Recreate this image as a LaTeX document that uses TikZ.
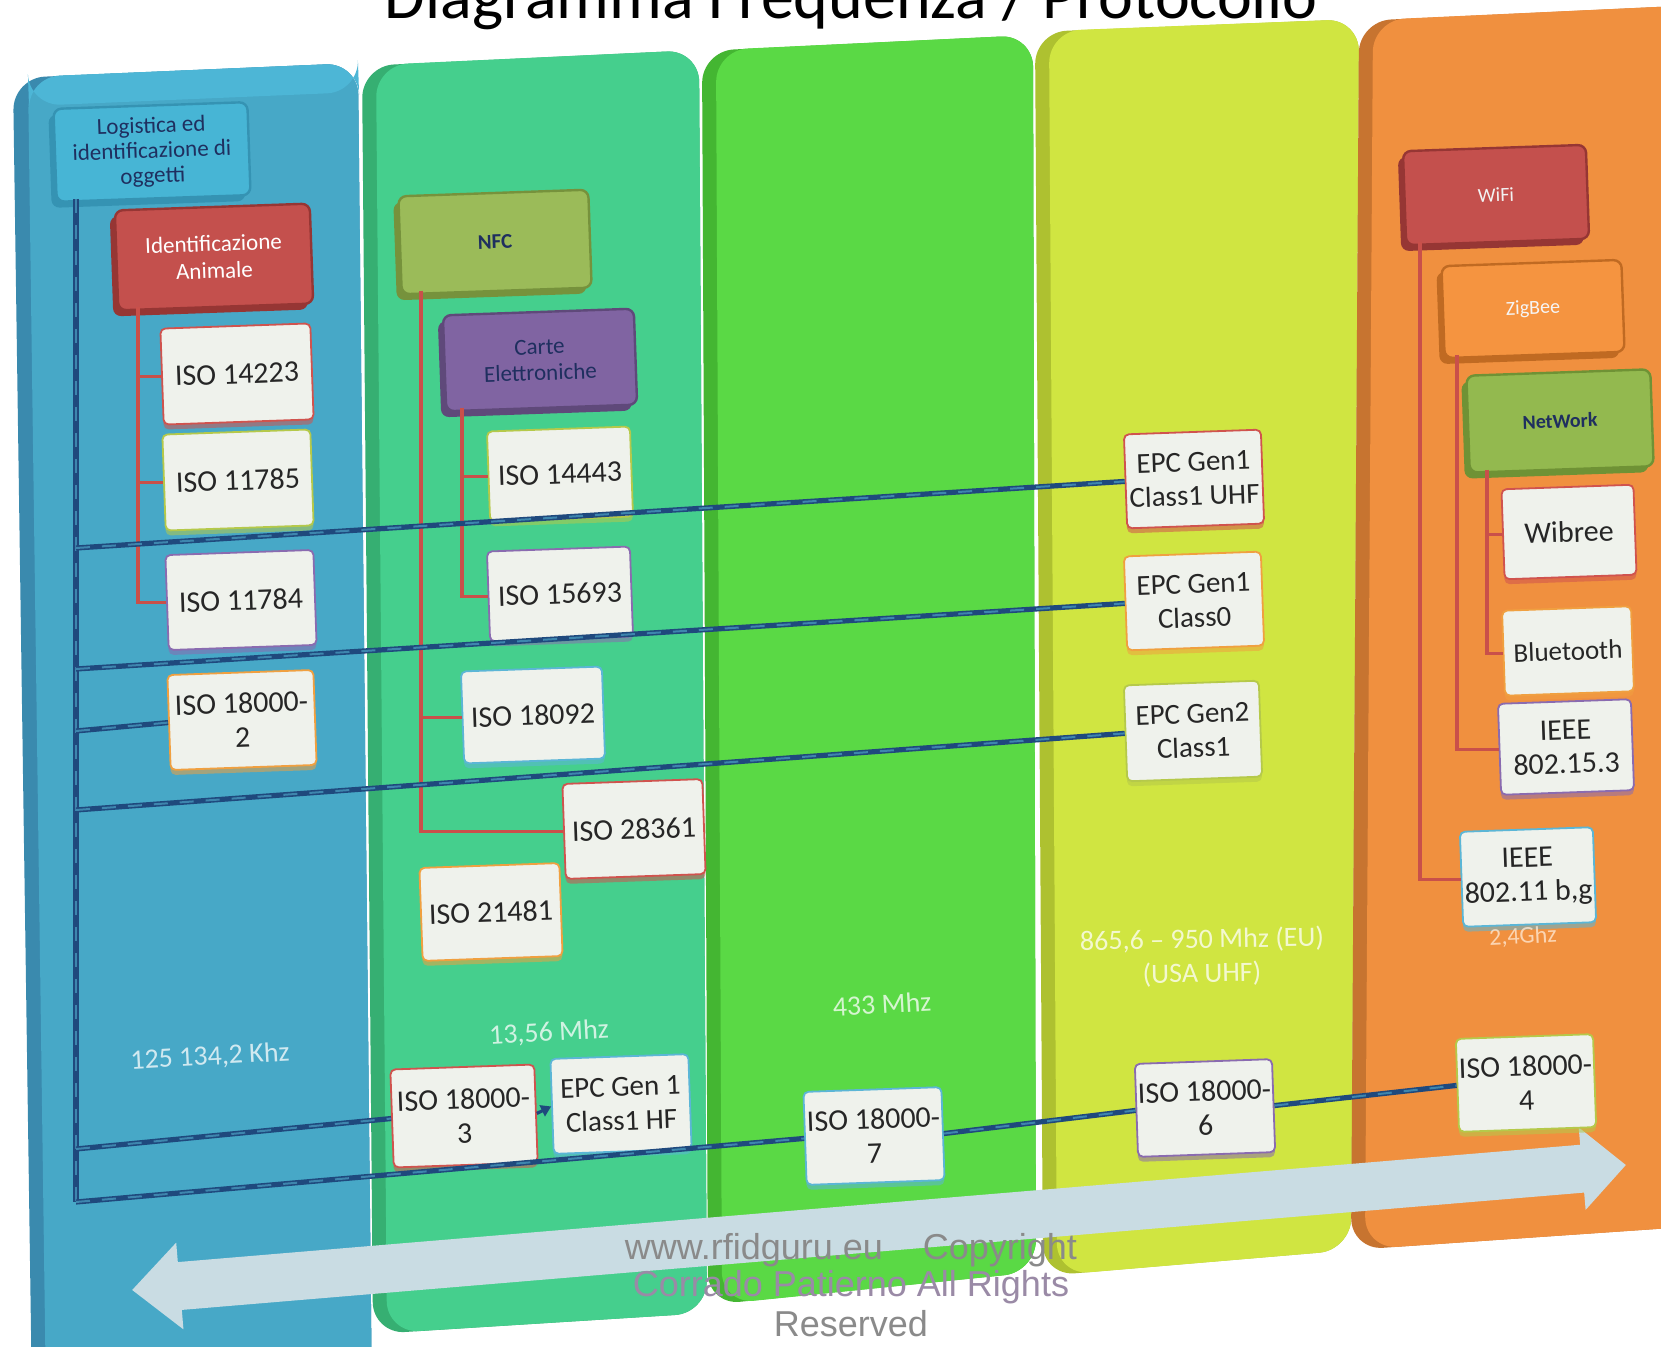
\documentclass[tikz,border=0pt]{standalone}
\usepackage{fontspec}
\setmainfont{Carlito}
\newfontfamily\wmfont{Liberation Sans}
\usetikzlibrary{arrows.meta}
\newcommand\myfs[2]{\fontsize{#1}{#2}\selectfont}
\definecolor{blueM}{HTML}{47A8C7}
\definecolor{blueD}{HTML}{3A8AAE}
\definecolor{blueT}{HTML}{4DB6D6}
\definecolor{tealM}{HTML}{45CF8D}
\definecolor{tealD}{HTML}{36AF72}
\definecolor{greenM}{HTML}{5AD945}
\definecolor{greenD}{HTML}{44B632}
\definecolor{yelM}{HTML}{D0E541}
\definecolor{yelD}{HTML}{AEC130}
\definecolor{oraM}{HTML}{F0903F}
\definecolor{oraD}{HTML}{C77430}
\definecolor{logC}{HTML}{47B5D5}
\definecolor{logD}{HTML}{3593B3}
\definecolor{redC}{HTML}{C4504D}
\definecolor{redD}{HTML}{963634}
\definecolor{oliveC}{HTML}{9BBB59}
\definecolor{oliveD}{HTML}{76923C}
\definecolor{purC}{HTML}{8064A2}
\definecolor{purD}{HTML}{5F497A}
\definecolor{zigC}{HTML}{F59440}
\definecolor{zigD}{HTML}{C06A22}
\definecolor{netC}{HTML}{93B94F}
\definecolor{netD}{HTML}{6F9235}
\definecolor{navyT}{HTML}{1F2F5F}
\definecolor{boxF}{HTML}{EFF2EC}
\definecolor{txtD}{HTML}{262626}
\definecolor{treeR}{HTML}{C9504A}
\definecolor{navyL}{HTML}{1F497D}
\definecolor{navyLt}{HTML}{3E86AE}
\definecolor{arrowC}{HTML}{C9DCE3}
\definecolor{wmGrey}{HTML}{8A8A8A}
\definecolor{wmPur}{HTML}{9A8AA6}
\definecolor{bdRed}{HTML}{D0534E}
\definecolor{bdOli}{HTML}{B5C94A}
\definecolor{bdPur}{HTML}{8A6BB0}
\definecolor{bdOra}{HTML}{F0A040}
\definecolor{bdCya}{HTML}{5BB6D6}
\begin{document}
\begin{tikzpicture}[x=0.5pt,y=-0.5pt,
  wbox/.style={rectangle, rounded corners=2.5pt, fill=boxF, draw=#1, line width=0.9pt,
    font=\myfs{15}{17}, text=txtD, align=center, inner sep=1pt, rotate=2,
    preaction={fill=#1, opacity=0.55, transform canvas={yshift=-2.5pt}}},
  hdr/.style n args={3}{rectangle, rounded corners=4pt, fill=#1, draw=#2, line width=1.2pt,
    text=#3, align=center, rotate=2, inner sep=1pt,
    preaction={fill=#2, transform canvas={shift={(-2.5pt,-3pt)}}}},
  redline/.style={draw=treeR, line width=1.6pt},
  navline/.style={draw=navyL, line width=2.6pt,
    postaction={draw=navyLt, line width=1pt, dash pattern=on 7pt off 6pt}},
  freq/.style={text=white, opacity=0.75, font=\myfs{14}{16.5}, rotate=3, align=center, inner sep=0pt},
  wm/.style={font=\wmfont\myfs{18}{20}}
]
\useasboundingbox (0,0) rectangle (1661,1347);
\clip (0,0) rectangle (1661,1347);
\fill[white] (0,0) rectangle (1661,1347);

% columns
\fill[blueD, rounded corners=16pt] (13,78) -- (358,63) -- (372,1400) -- (32,1400) -- cycle;
\fill[blueM, rounded corners=16pt] (28,77) -- (358,63) -- (372,1400) -- (46,1400) -- cycle;
\fill[blueT, rounded corners=16pt] (28,77) -- (358,63) -- (359,92) -- (29,106) -- cycle;
\fill[tealD, rounded corners=16pt] (362,66) -- (699,50) -- (707,1313) -- (373,1334) -- cycle;
\fill[tealM, rounded corners=16pt] (376,65) -- (699,50) -- (707,1313) -- (387,1333) -- cycle;
\fill[greenD, rounded corners=16pt] (702,51) -- (1033,35) -- (1036,1272) -- (708,1305) -- cycle;
\fill[greenM, rounded corners=16pt] (716,50) -- (1033,35) -- (1036,1272) -- (722,1304) -- cycle;
\fill[yelD, rounded corners=16pt] (1035,32) -- (1359,19) -- (1351,1250) -- (1043,1276) -- cycle;
\fill[yelM, rounded corners=16pt] (1049,31) -- (1359,19) -- (1351,1250) -- (1057,1275) -- cycle;
\fill[oraD, rounded corners=16pt] (1359,21) -- (1700,5) -- (1700,1226) -- (1351,1250) -- cycle;
\fill[oraM, rounded corners=16pt] (1373,20) -- (1700,5) -- (1700,1226) -- (1365,1249) -- cycle;

% title
\node[font=\myfs{33}{38}, anchor=base, text=black] (title) at (851,19) {Diagramma Frequenza / Protocollo};

% big double arrow
\coordinate (arrL) at (132,1290);
\coordinate (arrR) at (1626,1165);
\draw[draw=arrowC, line width=24pt, {Triangle[length=24pt,width=42pt]}-{Triangle[length=22pt,width=40pt]}] (arrL) -- (arrR);

% header boxes
\node[hdr={logC}{logD}{navyT}, minimum width=97pt, minimum height=46.5pt, font=\myfs{11.5}{12.5}] (log) at (152,152) {Logistica ed\\identificazione di\\oggetti};
\node[hdr={redC}{redD}{white}, minimum width=97.5pt, minimum height=50pt, font=\myfs{11.5}{13.5}] (animal) at (214,257) {Identificazione\\Animale};
\node[hdr={oliveC}{oliveD}{navyT}, minimum width=95pt, minimum height=49pt, font=\bfseries\myfs{10.5}{12}] (nfc) at (495,242) {NFC};
\node[hdr={purC}{purD}{navyT}, minimum width=95.5pt, minimum height=48pt, font=\myfs{11.5}{13}] (carte) at (540,360) {Carte\\Elettroniche};
\node[hdr={redC}{redD}{white!90!gray}, minimum width=91.5pt, minimum height=47pt, font=\myfs{10}{12}] (wifi) at (1496,195) {WiFi};
\node[hdr={zigC}{zigD}{white!92!gray}, minimum width=90pt, minimum height=46pt, font=\myfs{10}{12}] (zigbee) at (1533,309) {ZigBee};
\node[hdr={netC}{netD}{navyT}, minimum width=92pt, minimum height=48.5pt, font=\bfseries\myfs{10}{12}] (network) at (1560,421) {NetWork};

% white boxes - blue column
\node[wbox=bdRed, minimum width=75pt, minimum height=48pt] (i14223) at (237,374) {ISO 14223};
\node[wbox=bdOli, minimum width=74pt, minimum height=48pt] (i11785) at (238,480) {ISO 11785};
\node[wbox=bdPur, minimum width=74pt, minimum height=47.5pt] (i11784) at (241,600) {ISO 11784};
\node[wbox=bdOra, minimum width=73pt, minimum height=47.5pt] (i180002) at (242,720) {ISO 18000-\\2};
% teal column
\node[wbox=bdOli, minimum width=71.5pt, minimum height=45pt] (i14443) at (560,474) {ISO 14443};
\node[wbox=bdPur, minimum width=71.5pt, minimum height=45pt] (i15693) at (560,594) {ISO 15693};
\node[wbox=bdCya, minimum width=70.5pt, minimum height=46pt] (i18092) at (533,715) {ISO 18092};
\node[wbox=bdRed, minimum width=70pt, minimum height=47.5pt] (i28361) at (634,829) {ISO 28361};
\node[wbox=bdOra, minimum width=70pt, minimum height=46.5pt] (i21481) at (491,912) {ISO 21481};
\node[wbox=bdRed, minimum width=72pt, minimum height=49pt] (i180003) at (464,1116) {ISO 18000-\\3};
\node[wbox=bdCya, minimum width=69pt, minimum height=47.5pt, font=\myfs{14.5}{17}] (epchf) at (621,1104) {EPC Gen 1\\Class1 HF};
% green column
\node[wbox=bdCya, minimum width=69pt, minimum height=46.5pt] (i180007) at (874,1136) {ISO 18000-\\7};
% yellow column
\node[wbox=bdRed, minimum width=68.5pt, minimum height=47pt, font=\myfs{14.5}{17}] (uhf) at (1194,479) {EPC Gen1\\Class1 UHF};
\node[wbox=bdOra, minimum width=68.5pt, minimum height=47pt, font=\myfs{14.5}{17}] (class0) at (1194,601) {EPC Gen1\\Class0};
\node[wbox=bdOli, minimum width=67.5pt, minimum height=48pt, font=\myfs{14.5}{17}] (gen2) at (1193,731) {EPC Gen2\\Class1};
\node[wbox=bdPur, minimum width=67pt, minimum height=46.5pt] (i180006) at (1205,1108) {ISO 18000-\\6};
% orange column
\node[wbox=bdRed, minimum width=66pt, minimum height=45pt] (wibree) at (1569,532) {Wibree};
\node[wbox=bdOra, minimum width=64.5pt, minimum height=42.5pt, font=\myfs{13.5}{16}] (bluetooth) at (1568,651) {Bluetooth};
\node[wbox=bdPur, minimum width=66.5pt, minimum height=45.5pt] (ieee153) at (1566,747) {IEEE\\802.15.3};
\node[wbox=bdCya, minimum width=66.5pt, minimum height=47.5pt] (ieee11) at (1528,877) {IEEE\\802.11 b,g};
\node[wbox=bdOli, minimum width=65.5pt, minimum height=46.5pt] (i180004) at (1526,1083) {ISO 18000-\\4};

% red tree connectors
\coordinate (tA) at (138,307);
\draw[redline] (tA) |- (i14223.west);
\draw[redline] (tA) |- (i11785.west);
\draw[redline] (tA) |- (i11784.west);
\coordinate (tN) at (421,291);
\draw[redline] (tN) |- (i18092.west);
\draw[redline] (tN) |- (i28361.west);
\coordinate (tC) at (462,408);
\draw[redline] (tC) |- (i14443.west);
\draw[redline] (tC) |- (i15693.west);
\coordinate (tW) at (1420,242);
\draw[redline] (tW) |- (ieee11.west);
\coordinate (tZ) at (1457,355);
\draw[redline] (tZ) |- (ieee153.west);
\coordinate (tNw) at (1487,470);
\draw[redline] (tNw) |- (wibree.west);
\draw[redline] (tNw) |- (bluetooth.west);

% navy connectors
\coordinate (navtop) at (76,199);
\coordinate (j1) at (76,548);
\coordinate (j2) at (76,669);
\coordinate (j3) at (76,731);
\coordinate (j4) at (76,810);
\coordinate (j5) at (76,1149);
\coordinate (j6) at (76,1202);
\draw[navline] (navtop) -- (j6);
\draw[navline] (j1) -- (uhf.west);
\draw[navline] (j2) -- (class0.west);
\draw[navline] (j3) -- (i180002.west);
\draw[navline] (j4) -- (gen2.west);
\draw[navline] (j5) -- (i180003.west);
\draw[navline] (j6) -- (i180007.west);
\draw[navline] (i180007.east) -- (i180006.west);
\draw[navline] (i180006.east) -- (i180004.west);
\draw[draw=navyL, line width=1.6pt, -{Triangle[length=5pt,width=6pt]}] (i180003.east) -- (epchf.west);

% frequency labels
\node[freq] (f1) at (210,1057) {125 134,2 Khz};
\node[freq] (f2) at (549,1033) {13,56 Mhz};
\node[freq] (f3) at (882,1004) {433 Mhz};
\node[freq, rotate=-2] (f4a) at (1202,940) {865,6 -- 950 Mhz (EU)};
\node[freq, rotate=-2] (f4b) at (1202,974) {(USA UHF)};
\node[freq, font=\myfs{12}{14}, text=white!85!orange] (f5) at (1523,937) {2,4Ghz};

% watermark
\node[wm, text=wmGrey] (wm1) at (851,1250) {www.rfidguru.eu\hspace{20pt}Copyright};
\node[wm, text=wmPur] (wm2) at (851,1287) {Corrado Patierno All Rights};
\node[wm, text=wmGrey] (wm3) at (851,1324) {Reserved};
\end{tikzpicture}
\end{document}
